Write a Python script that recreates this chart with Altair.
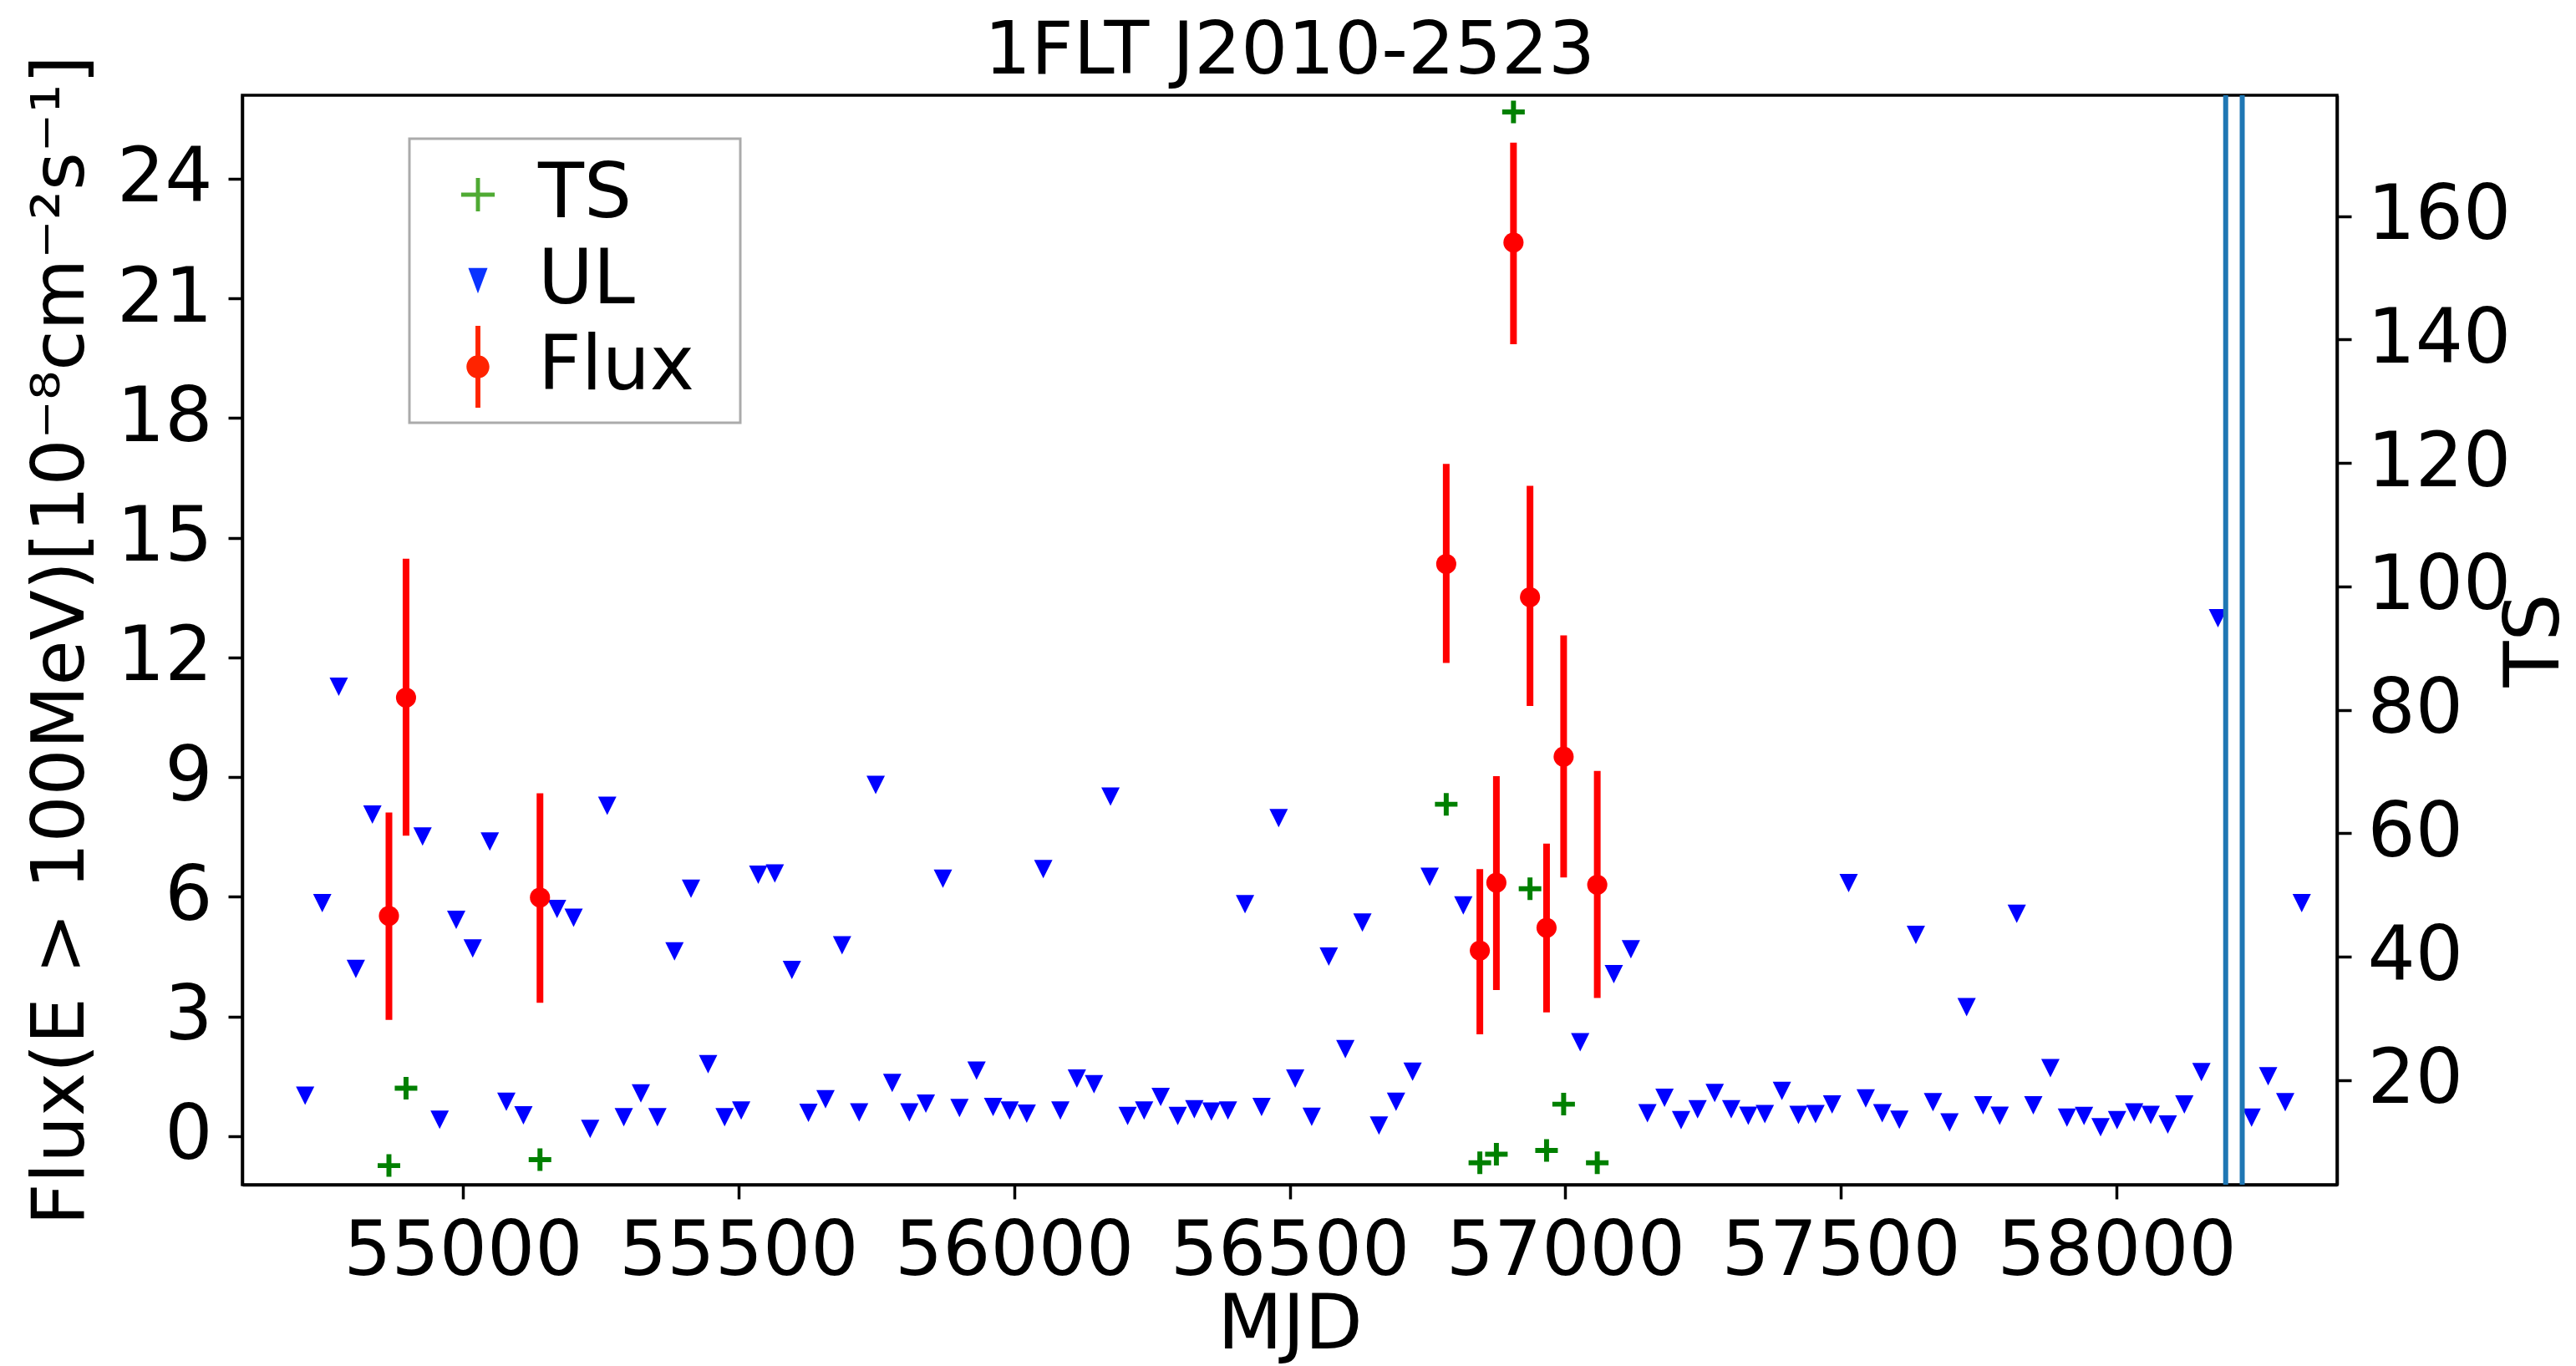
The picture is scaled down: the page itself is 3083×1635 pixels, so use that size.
import altair as alt
import pandas as pd

# ---- Monthly-binned gamma-ray light curve of 1FLT J2010-2523 ----
# Upper limits (bins without a significant detection)
ul_mjd = [54714, 54745, 54775, 54806, 54836, 54927, 54958, 54988, 55018, 55049,
          55079, 55110, 55171, 55201, 55231, 55262, 55292, 55323, 55353, 55384,
          55414, 55445, 55475, 55505, 55536, 55566, 55597, 55627, 55658, 55688,
          55719, 55749, 55779, 55810, 55840, 55871, 55901, 55932, 55962, 55992,
          56023, 56053, 56084, 56114, 56145, 56175, 56206, 56236, 56266, 56297,
          56327, 56358, 56388, 56419, 56449, 56480, 56510, 56540, 56571, 56601,
          56632, 56662, 56693, 56723, 56754, 56815, 57027, 57088, 57119, 57149,
          57180, 57210, 57240, 57271, 57301, 57332, 57362, 57393, 57423, 57454,
          57484, 57514, 57545, 57575, 57606, 57636, 57667, 57697, 57728, 57758,
          57788, 57819, 57849, 57880, 57910, 57941, 57971, 58001, 58032, 58062,
          58093, 58123, 58154, 58184, 58245, 58275, 58306, 58336]
ul_flux = [1.01, 5.84, 11.26, 4.19, 8.06, 7.51, 0.41, 5.42, 4.70, 7.38,
           0.86, 0.52, 5.69, 5.47, 0.18, 8.28, 0.47, 1.07, 0.47, 4.63,
           6.20, 1.80, 0.47, 0.64, 6.55, 6.58, 4.16, 0.58, 0.92, 4.78,
           0.59, 8.80, 1.33, 0.59, 0.81, 6.45, 0.70, 1.64, 0.73, 0.64,
           0.56, 6.69, 0.64, 1.44, 1.30, 8.51, 0.50, 0.64, 0.98, 0.50,
           0.67, 0.61, 0.64, 5.81, 0.73, 7.97, 1.44, 0.48, 4.50, 2.18,
           5.35, 0.26, 0.86, 1.61, 6.50, 5.78, 2.35, 4.06, 4.68, 0.57,
           0.96, 0.40, 0.67, 1.08, 0.67, 0.51, 0.55, 1.13, 0.53, 0.55,
           0.79, 6.34, 0.94, 0.57, 0.41, 5.04, 0.85, 0.34, 3.23, 0.77,
           0.51, 5.57, 0.77, 1.70, 0.46, 0.50, 0.22, 0.40, 0.59, 0.53,
           0.29, 0.79, 1.60, 12.98, 0.46, 1.50, 0.85, 5.84]

# Detections: flux with 1-sigma range and test statistic
det_mjd = [54866, 54897, 55140, 56784, 56845, 56875, 56906, 56936, 56966, 56997, 57058]
det_flux = [5.52, 10.99, 5.98, 14.34, 4.65, 6.35, 22.40, 13.51, 5.22, 9.51, 6.30]
det_lo = [2.91, 7.53, 3.34, 11.86, 2.55, 3.66, 19.85, 10.78, 3.10, 6.48, 3.46]
det_hi = [8.11, 14.47, 8.59, 16.85, 6.69, 9.02, 24.90, 16.30, 7.33, 12.55, 9.15]
det_ts = [6.15, 18.7, 7.1, 64.7, 6.6, 8.0, 176.9, 51.0, 8.6, 16.1, 6.6]

# Marked epochs
event_mjd = [58198, 58228]

# Axis ticks
x_ticks = [55000, 55500, 56000, 56500, 57000, 57500, 58000]
flux_ticks = [0, 3, 6, 9, 12, 15, 18, 21, 24]
ts_ticks = [20, 40, 60, 80, 100, 120, 140, 160]

legend_names = ["TS", "UL", "Flux"]
title_text = ["1FLT J2010-2523"]

ul_df = pd.DataFrame({"mjd": ul_mjd, "flux": ul_flux})
det_df = pd.DataFrame({"mjd": det_mjd, "flux": det_flux, "lo": det_lo,
                       "hi": det_hi, "ts": det_ts})
event_df = pd.DataFrame({"mjd": event_mjd})
# rows that only feed the legend; they sit outside the x range and are clipped
legend_df = pd.DataFrame({"series": legend_names, "mjd": [50000] * 3, "flux": [0] * 3})
title_df = pd.DataFrame({"label": title_text})

PW, PH = 2507, 1304
FONT = "DejaVu Sans"

# marker outlines (unit square coordinates)
TRI_DOWN = "M-1,-1L1,-1L0,1Z"
PLUS = "M-1,-0.22H1V0.22H-1Z M-0.22,-1H0.22V1H-0.22Z"
LEG_PLUS = "M-0.41,-0.05H0.41V0.05H-0.41Z M-0.05,-0.41H0.05V0.41H-0.05Z"
LEG_TRI = "M-0.235,-0.31L0.235,-0.31L0,0.31Z"
LEG_FLUX = ("M-0.06,-1H0.06V1H-0.06Z "
            "M0.28,0A0.28,0.28 0 1,1 -0.28,0A0.28,0.28 0 1,1 0.28,0Z")

x_scale = alt.Scale(domain=[54600, 58400], nice=False, zero=False)
x_axis = alt.Axis(values=x_ticks, format="d", title="MJD",
                  titleX=PW / 2, titleY=168, titleBaseline="middle",
                  titleAlign="center")
x_enc = alt.X("mjd:Q", scale=x_scale, axis=x_axis)

flux_domain = [-1.22, 26.09]
flux_axis = alt.Axis(values=flux_ticks, orient="left",
                     title="Flux(E > 100MeV)[10⁻⁸cm⁻²s⁻¹]",
                     titleX=-217, titleY=PH / 2, titleAngle=270,
                     titleBaseline="middle", titleAlign="center",
                     titleFontSize=88)


def flux_y(field, axis=None):
    return alt.Y(field, scale=alt.Scale(domain=flux_domain, nice=False, zero=False),
                 axis=axis)


ts_scale = alt.Scale(domain=[3.05, 179.6], nice=False, zero=False)
ts_axis = alt.Axis(values=ts_ticks, orient="right", title="TS",
                   titleX=237, titleY=PH / 2, titleAngle=270,
                   titleBaseline="middle", titleAlign="center")

ul_layer = alt.Chart(ul_df).mark_point(
    shape=TRI_DOWN, filled=True, size=484, color="#0000ff", opacity=1
).encode(x=x_enc, y=flux_y("flux:Q", flux_axis))

err_layer = alt.Chart(det_df).mark_rule(color="#ff0000", strokeWidth=8).encode(
    x=x_enc, y=flux_y("lo:Q"), y2="hi:Q"
)

dot_layer = alt.Chart(det_df).mark_point(
    shape="circle", filled=True, size=580, color="#ff0000", opacity=1
).encode(x=x_enc, y=flux_y("flux:Q"))

# two thin spaces (closed by a zero-width space so they are kept) leave some
# room at the right-hand side of the legend box
legend_spec = alt.Legend(title=None, labelExpr="datum.label + '\u2009\u2009\u200b'")
legend_layer = alt.Chart(legend_df).mark_point(filled=True, clip=True, opacity=1).encode(
    x=x_enc,
    y=flux_y("flux:Q"),
    color=alt.Color("series:N", sort=legend_names, legend=legend_spec,
                    scale=alt.Scale(domain=legend_names,
                                    range=["#4faa33", "#0a33ff", "#ff2400"])),
    shape=alt.Shape("series:N", sort=legend_names, legend=legend_spec,
                    scale=alt.Scale(domain=legend_names,
                                    range=[LEG_PLUS, LEG_TRI, LEG_FLUX])),
)

event_layer = alt.Chart(event_df).mark_rule(color="#1f77b4", strokeWidth=6).encode(
    x=x_enc
)

ts_layer = alt.Chart(det_df).mark_point(
    shape=PLUS, filled=True, size=729, color="#008000", opacity=1
).encode(x=x_enc, y=alt.Y("ts:Q", scale=ts_scale, axis=ts_axis))

# chart heading, centred over the plot area
title_layer = alt.Chart(title_df).mark_text(
    font=FONT, fontSize=88, color="black", align="center", baseline="alphabetic"
).encode(text="label:N", x=alt.value(PW / 2), y=alt.value(-26))

chart = (
    alt.layer(ul_layer, err_layer, dot_layer, legend_layer, event_layer, ts_layer,
              title_layer)
    .resolve_scale(y="independent")
    .properties(
        width=PW,
        height=PH,
        autosize=alt.AutoSizeParams(type="none"),
        padding={"left": 290, "top": 114, "right": 286, "bottom": 217},
        background="white",
    )
    .configure(font=FONT)
    .configure_view(stroke="black", strokeWidth=3.5)
    .configure_axis(
        labelFont=FONT, labelFontSize=90, labelColor="black", labelLimit=0,
        titleFont=FONT, titleFontSize=90, titleFontWeight="normal",
        titleColor="black", tickColor="black", tickWidth=3.5, tickSize=17,
        domainColor="black", domainWidth=3.5, grid=False, labelPadding=19,
        labelOverlap=False, titleLimit=0,
    )
    .configure_legend(
        orient="none", legendX=200, legendY=52, padding=18,
        strokeColor="#ababab", strokeWidth=3, fillColor="white",
        cornerRadius=0, symbolSize=9604, symbolOffset=15,
        symbolStrokeWidth=0, labelFont=FONT, labelFontSize=90,
        labelColor="black", labelOffset=23, rowPadding=9, labelLimit=0,
    )
)

chart.save("out.html", embed_options={"renderer": "svg", "actions": False})
